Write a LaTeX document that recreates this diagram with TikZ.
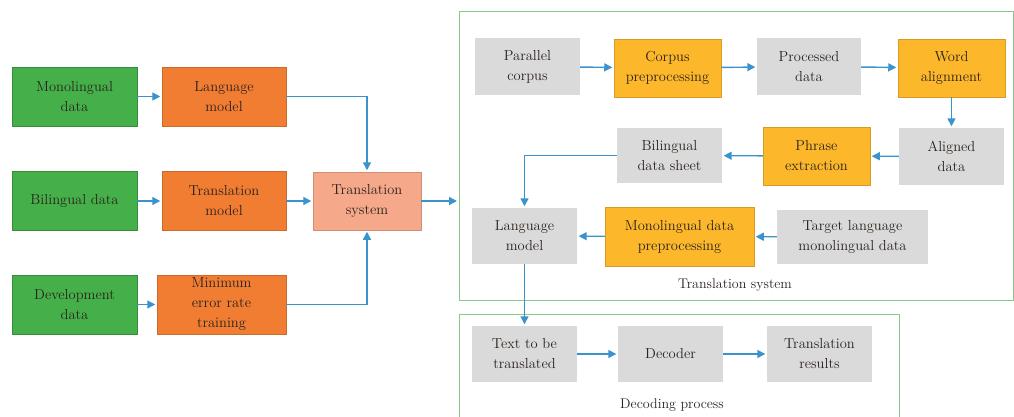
\documentclass[tikz,border=0pt]{standalone}
\usetikzlibrary{arrows.meta, positioning}

\definecolor{datagreen}{HTML}{45B04A}
\definecolor{modelorange}{HTML}{F07D32}
\definecolor{sysSalmon}{HTML}{F5A88A}
\definecolor{stepyellow}{HTML}{FDB72B}
\definecolor{itemgray}{HTML}{DADADA}
\definecolor{framegreen}{HTML}{88C888}
\definecolor{arrowblue}{HTML}{3A93CC}
\definecolor{textgray}{HTML}{2A221D}

\begin{document}
\begin{tikzpicture}[x=1pt, y=-1pt, >={Triangle[length=8pt, width=8pt]},
    box/.style={rectangle, align=center, inner sep=0pt, text=textgray,
        font=\fontsize{14.5}{20}\selectfont, minimum width=105pt, minimum height=57pt},
    greenbox/.style={box, fill=datagreen, draw=datagreen!80!black, line width=0.5pt, minimum width=125pt, minimum height=59pt},
    orangebox/.style={box, fill=modelorange, draw=modelorange!85!black, line width=0.5pt, minimum width=124pt, minimum height=59pt},
    yellowbox/.style={box, fill=stepyellow, draw=stepyellow!85!black, line width=0.5pt, minimum width=107pt, minimum height=58pt},
    graybox/.style={box, fill=itemgray},
    frame/.style={rectangle, draw=framegreen, line width=1pt, inner sep=0pt},
    arr/.style={->, draw=arrowblue, line width=1.4pt, shorten >=1.5pt}]
    \useasboundingbox (0,0) rectangle (1014,417);

    % left part
    \node[greenbox] (mono) at (74.5,96.5) {Monolingual\\data};
    \node[greenbox] (bil) at (74.5,201) {Bilingual data};
    \node[greenbox] (dev) at (74.5,304.5) {Development\\data};
    \node[orangebox] (lm) at (224,96.5) {Language\\model};
    \node[orangebox] (tm) at (224,201) {Translation\\model};
    \node[orangebox, minimum width=129pt] (mert) at (221.5,304.5) {Minimum\\error rate\\training};
    \node[box, fill=sysSalmon, draw=sysSalmon!85!black, line width=0.5pt, minimum width=108pt, minimum height=58pt] (ts) at (367,201) {Translation\\system};

    % frames
    \node[frame, minimum width=554pt, minimum height=288pt] (tsys) at (736,156) {};
    \node[frame, minimum width=440pt, minimum height=106pt] (dec) at (679,367) {};
    \node[text=textgray, font=\fontsize{14}{17}\selectfont] (tslabel) at (735,285) {Translation system};
    \node[text=textgray, font=\fontsize{14}{17}\selectfont] (declabel) at (672,405) {Decoding process};

    % translation system
    \node[graybox] (pc) at (527.5,66.5) {Parallel\\corpus};
    \node[yellowbox] (cp) at (667.5,68) {Corpus\\preprocessing};
    \node[graybox, minimum width=104pt] (pd) at (809,66.5) {Processed\\data};
    \node[yellowbox] (wa) at (951.5,68) {Word\\alignment};
    \node[graybox, minimum height=55pt] (bds) at (669.5,155.5) {Bilingual\\data sheet};
    \node[yellowbox] (pe) at (816.5,156) {Phrase\\extraction};
    \node[graybox] (ad) at (951.5,156.5) {Aligned\\data};
    \node[graybox, minimum height=56pt] (lm2) at (524.5,236) {Language\\model};
    \node[yellowbox, minimum width=149pt, minimum height=59pt] (mdp) at (679.5,236.5) {Monolingual data\\preprocessing};
    \node[graybox, minimum width=151pt, minimum height=54pt] (tld) at (852.5,237) {Target language\\monolingual data};

    % decoding process
    \node[graybox, minimum height=56pt] (ttbt) at (524.5,354) {Text to be\\translated};
    \node[graybox, minimum height=56pt] (decd) at (670.5,354) {Decoder};
    \node[graybox, minimum height=56pt] (res) at (819.5,354) {Translation\\results};

    \draw[arr] (mono) -- (lm);
    \draw[arr] (bil) -- (tm);
    \draw[arr] (dev) -- (mert);
    \draw[arr] (lm.east) -| (ts.north);
    \draw[arr] (tm) -- (ts);
    \draw[arr] (mert.east) -| (ts.south);
    \draw[arr] (ts.east) -- (tsys.west |- ts.east);

    \draw[arr] (pc) -- (cp);
    \draw[arr] (cp) -- (pd);
    \draw[arr] (pd) -- (wa);
    \draw[arr] (wa) -- (ad);
    \draw[arr] (ad) -- (pe);
    \draw[arr] (pe) -- (bds);
    \draw[arr] (bds.west) -| (lm2.north);
    \draw[arr] (tld) -- (mdp);
    \draw[arr] (mdp) -- (lm2);
    \draw[arr] (lm2) -- (ttbt);
    \draw[arr] (ttbt) -- (decd);
    \draw[arr] (decd) -- (res);
\end{tikzpicture}
\end{document}
